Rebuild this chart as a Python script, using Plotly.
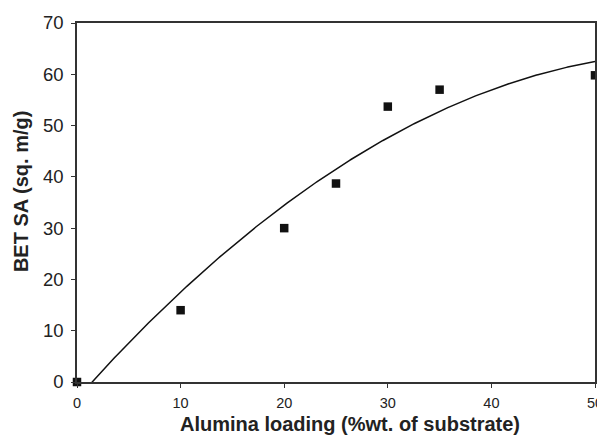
import numpy as np
import plotly.graph_objects as go

alumina_loading = [0, 10, 20, 25, 30, 35, 50]
bet_sa = [0, 14, 30, 38.7, 53.7, 57, 59.8]
x_ticks = [0, 10, 20, 30, 40, 50]
y_ticks = [0, 10, 20, 30, 40, 50, 60, 70]
x_title = "Alumina loading (%wt. of substrate)"
y_title = "BET SA (sq. m/g)"

# Order-2 polynomial trendline fitted to the data
coef = np.polyfit(alumina_loading, bet_sa, 2)
xf = np.linspace(min(alumina_loading), max(alumina_loading), 400)
yf = np.polyval(coef, xf)

fig = go.Figure()
fig.add_trace(go.Scatter(x=xf, y=yf, mode="lines",
                         line=dict(color="#111111", width=1.5),
                         hoverinfo="skip", showlegend=False))
fig.add_trace(go.Scatter(x=alumina_loading, y=bet_sa, mode="markers",
                         marker=dict(symbol="square", size=8.5, color="#111111"),
                         cliponaxis=False, showlegend=False))

# The page body adds an 8px margin, so the figure is sized 8px smaller
font_family = "Liberation Sans, Arial, sans-serif"
fig.update_layout(
    width=597, height=427,
    margin=dict(l=69, r=10, t=15, b=53),
    paper_bgcolor="white", plot_bgcolor="white",
    font=dict(family=font_family, color="#222222"),
    xaxis=dict(range=[0, 50], tickvals=x_ticks, showgrid=False, zeroline=False,
               automargin=False,
               showline=True, linecolor="#333333", linewidth=1.5, mirror=True,
               ticks="outside", ticklen=4, tickcolor="#333333",
               tickfont=dict(size=14.5), ticklabelstandoff=3),
    yaxis=dict(range=[0, 70], tickvals=y_ticks, showgrid=False, zeroline=False,
               automargin=False,
               showline=True, linecolor="#333333", linewidth=1.5, mirror=True,
               ticks="outside", ticklen=4, tickcolor="#333333",
               tickfont=dict(size=18.5), ticklabelstandoff=4),
    annotations=[
        dict(text="<b>" + x_title + "</b>", xref="paper", yref="paper",
             x=0.527, y=0, xanchor="center", yanchor="top", yshift=-29,
             showarrow=False, font=dict(size=20, color="#222222")),
        dict(text="<b>" + y_title + "</b>", xref="paper", yref="paper",
             x=0, y=0.529, xanchor="center", yanchor="middle", xshift=-56,
             textangle=-90, showarrow=False, font=dict(size=20, color="#222222")),
    ],
)

fig.write_html("out.html")
